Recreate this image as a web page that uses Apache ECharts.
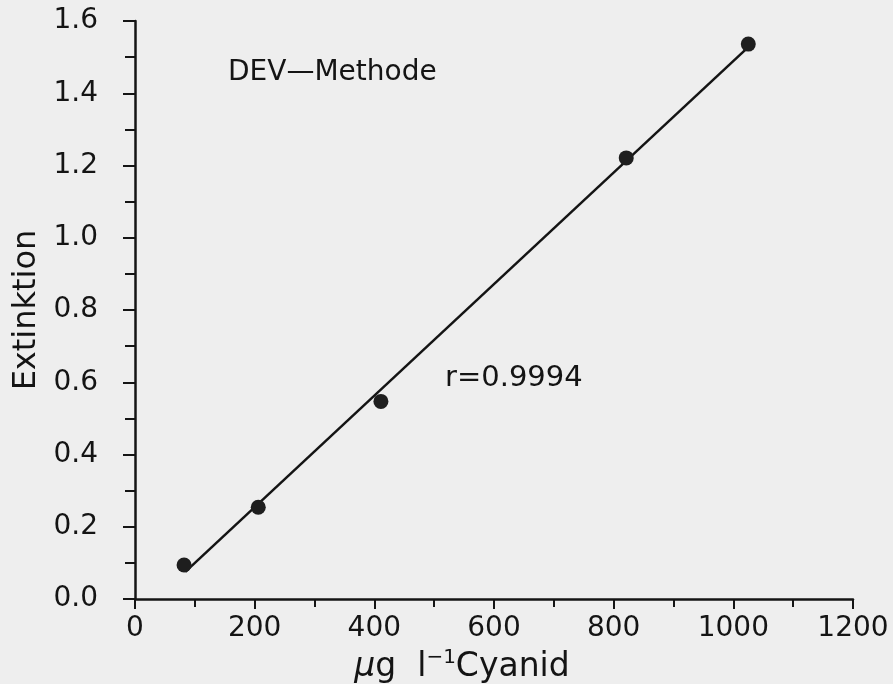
<!DOCTYPE html>
<html>
<head>
<meta charset="utf-8">
<script src="https://cdn.jsdelivr.net/npm/echarts@6/dist/echarts.min.js"></script>
<style>
  html, body { margin: 0; padding: 0; background: #eeeeee; }
  #main { width: 893px; height: 684px; }
</style>
</head>
<body>
<div id="main"></div>
<script>
// Messpunkte (µg/l Cyanid, Extinktion)
var conc = [82, 206, 411, 821, 1025];
var ext = [0.094, 0.254, 0.547, 1.221, 1.536];
var fitX = [84, 1020];
var fitY = [0.075, 1.52];

var xTicks = [0, 200, 400, 600, 800, 1000, 1200];
var yTicks = [0.0, 0.2, 0.4, 0.6, 0.8, 1.0, 1.2, 1.4, 1.6];

var ink = '#141414';
var font = 'DejaVu Sans';

var chart = echarts.init(document.getElementById('main'));

var option = {
  backgroundColor: '#eeeeee',
  animation: false,
  grid: { left: 135, right: 40, top: 21, bottom: 85, containLabel: false, outerBoundsMode: 'none' },
  xAxis: {
    type: 'value',
    min: xTicks[0], max: xTicks[xTicks.length - 1], interval: 200,
    axisLine: { show: true, onZero: false, lineStyle: { color: ink, width: 2.5 } },
    axisTick: { show: true, length: 10, lineStyle: { color: ink, width: 2 } },
    minorTick: { show: true, splitNumber: 2, length: 8, lineStyle: { color: ink, width: 2 } },
    splitLine: { show: false },
    axisLabel: {
      color: ink, fontFamily: font, fontSize: 28, margin: 16,
      formatter: function (v) { return String(v); }
    },
    name: '{mu|μ}{n|g  l}{sup|−1}{n|Cyanid}',
    nameLocation: 'middle',
    nameGap: 28,
    nameTextStyle: {
      padding: [0, 64, 0, 0],
      rich: {
        mu: { fontFamily: font, fontSize: 33, fontStyle: 'italic', color: ink, lineHeight: 40 },
        n: { fontFamily: font, fontSize: 33, color: ink, lineHeight: 40 },
        sup: { fontFamily: font, fontSize: 20, color: ink, verticalAlign: 'top', lineHeight: 22 }
      }
    }
  },
  yAxis: {
    type: 'value',
    min: yTicks[0], max: yTicks[yTicks.length - 1], interval: 0.2,
    axisLine: { show: true, onZero: false, lineStyle: { color: ink, width: 2.5 } },
    axisTick: { show: true, length: 12, lineStyle: { color: ink, width: 2 } },
    minorTick: { show: true, splitNumber: 2, length: 10, lineStyle: { color: ink, width: 2 } },
    splitLine: { show: false },
    axisLabel: {
      color: ink, fontFamily: font, fontSize: 28, margin: 37,
      formatter: function (v) { return v.toFixed(1); }
    },
    name: 'Extinktion',
    nameLocation: 'middle',
    nameGap: 89,
    nameTextStyle: { color: ink, fontFamily: font, fontSize: 32 }
  },
  graphic: [
    {
      type: 'text', x: 228, y: 73,
      style: { text: 'DEV—Methode', fill: ink, font: '28px "DejaVu Sans"', verticalAlign: 'middle' }
    },
    {
      type: 'text', x: 445, y: 378,
      style: { text: 'r=0.9994', fill: ink, font: '29px "DejaVu Sans"', verticalAlign: 'middle' }
    }
  ],
  series: [
    {
      type: 'line',
      data: fitX.map(function (x, i) { return [x, fitY[i]]; }),
      showSymbol: false,
      lineStyle: { color: ink, width: 2.5 },
      z: 2
    },
    {
      type: 'scatter',
      data: conc.map(function (x, i) { return [x, ext[i]]; }),
      symbol: 'circle',
      symbolSize: 15,
      itemStyle: { color: '#1e1e1e', opacity: 1 },
      z: 3
    }
  ]
};

chart.setOption(option);
</script>
</body>
</html>
